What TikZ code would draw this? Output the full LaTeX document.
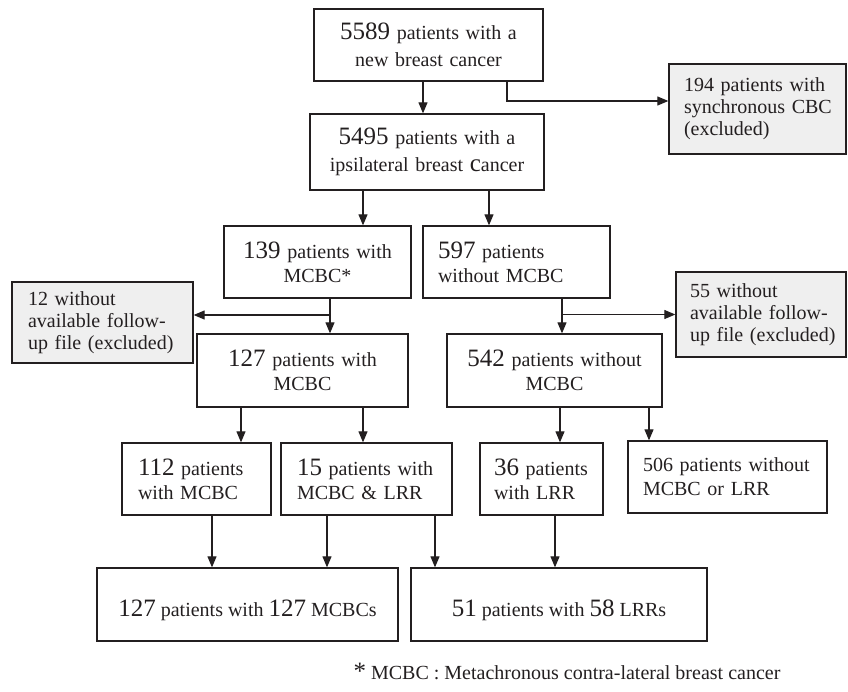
\documentclass[tikz,border=0pt]{standalone}
\usepackage{fontspec}
\setmainfont{Liberation Serif}
\usetikzlibrary{arrows.meta}
\definecolor{ink}{RGB}{35,31,32}
\definecolor{exfill}{RGB}{239,239,239}
\newcommand\bn[1]{{\fontsize{25}{25}\selectfont #1}}
\newcommand\nb[1]{\mbox{#1}}
\begin{document}
\begin{tikzpicture}[x=1pt,y=-1pt,
  box/.style={draw=ink,text=ink,line width=1.3pt,inner ysep=0pt,inner xsep=16pt},
  ctr/.style={box,align=center},
  lft/.style={box,align=left},
  ls27/.style={font=\fontsize{20}{27}\selectfont},
  ls24/.style={font=\fontsize{20}{24}\selectfont},
  ls22/.style={font=\fontsize{20}{22}\selectfont},
  excl/.style={lft,ls22,fill=exfill},
  arr/.style={draw=ink,line width=1.1pt,-{Triangle[length=11pt,width=9pt]}}]
\useasboundingbox (0,0) rectangle (848,691);

\node[ctr,ls27,minimum width=229pt,minimum height=72pt,text width=197pt] (A) at (428.5,45)
  {\nb{\bn{5589} patients with a}\\\nb{new breast cancer}};
\node[ctr,ls27,minimum width=234pt,minimum height=76pt,text width=202pt] (B) at (427,152)
  {\nb{\bn{5495} patients with a}\\\nb{ipsilateral breast \bn{c}ancer}};
\node[excl,inner xsep=15pt,minimum width=177pt,minimum height=90pt,text width=147pt] (ex1) at (757.5,109)
  {\nb{194 patients with}\\\nb{synchronous CBC}\\\nb{(excluded)}};

\node[ctr,ls24,minimum width=187pt,minimum height=72pt,text width=155pt] (C) at (317.5,262)
  {\nb{\bn{139} patients with}\\MCBC*};
\node[lft,inner xsep=15pt,ls24,minimum width=187pt,minimum height=72pt,text width=157pt] (D) at (516.5,262)
  {\nb{\bn{597} patients}\\\nb{without MCBC}};

\node[excl,minimum width=181pt,minimum height=81pt,text width=149pt] (ex2) at (102.5,322.5)
  {\nb{12 without}\\\nb{available follow-}\\\nb{up file (excluded)}};
\node[excl,inner xsep=14pt,minimum width=170pt,minimum height=85pt,text width=142pt] (ex3) at (761,314.5)
  {\nb{55 without}\\\nb{available follow-}\\\nb{up file (excluded)}};

\node[ctr,ls24,minimum width=211pt,minimum height=73pt,text width=179pt] (E) at (302.5,370.5)
  {\nb{\bn{127} patients with}\\MCBC};
\node[ctr,ls24,minimum width=215pt,minimum height=73pt,text width=183pt] (F) at (554.5,370.5)
  {\nb{\bn{542} patients without}\\MCBC};

\node[lft,ls24,minimum width=149pt,minimum height=72pt,text width=117pt] (G) at (196.5,479)
  {\nb{\bn{112} patients}\\\nb{with MCBC}};
\node[lft,ls24,minimum width=171pt,minimum height=72pt,text width=139pt] (H) at (366.5,479)
  {\nb{\bn{15} patients with}\\\nb{MCBC \& LRR}};
\node[lft,ls24,inner xsep=14pt,minimum width=123pt,minimum height=72pt,text width=95pt] (I) at (541.5,479)
  {\nb{\bn{36} patients}\\\nb{with LRR}};
\node[lft,ls24,inner xsep=15pt,minimum width=199pt,minimum height=72pt,text width=169pt] (J) at (727.5,477)
  {\nb{506 patients without}\\\nb{MCBC or LRR}};

\node[ctr,font=\fontsize{20}{24}\selectfont,minimum width=301pt,minimum height=73pt,text height=29pt,text depth=4.3pt] (K) at (247.5,604.5)
  {\bn{127} patients with \bn{127} MCBCs};
\node[ctr,font=\fontsize{20}{24}\selectfont,minimum width=296pt,minimum height=73pt,text height=29pt,text depth=4.3pt] (L) at (559,604.5)
  {\bn{51} patients with \bn{58} LRRs};

\node[anchor=base,text=ink,font=\fontsize{20}{24}\selectfont,inner sep=0pt] (fn) at (567,679)
  {\bn{*} MCBC : Metachronous contra-lateral breast cancer};

\draw[arr] ([xshift=-5.5pt]A.south) coordinate (p1) -- (p1 |- B.north);
\draw[arr] ([xshift=78.5pt]A.south) |- ([yshift=8pt]ex1.west);
\draw[arr] ([xshift=-64pt]B.south) coordinate (p2) -- (p2 |- C.north);
\draw[arr] ([xshift=62pt]B.south) coordinate (p3) -- (p3 |- D.north);
\draw[arr] ([xshift=12.5pt]C.south) coordinate (p4) -- (p4 |- E.north);
\draw[arr] (p4) |- ([yshift=7.5pt]ex2.east);
\draw[arr] ([xshift=45.5pt]D.south) coordinate (p5) -- (p5 |- F.north);
\draw[arr] (p5) |- (ex3.west);
\draw[arr] ([xshift=-61.5pt]E.south) coordinate (p6) -- (p6 |- G.north);
\draw[arr] ([xshift=60.5pt]E.south) coordinate (p7) -- (p7 |- H.north);
\draw[arr] ([xshift=5.5pt]F.south) coordinate (p8) -- (p8 |- I.north);
\draw[arr] ([xshift=94.5pt]F.south) coordinate (p9) -- (p9 |- J.north);
\draw[arr] ([xshift=15.5pt]G.south) coordinate (p10) -- (p10 |- K.north);
\draw[arr] ([xshift=-39.5pt]H.south) coordinate (p11) -- (p11 |- K.north);
\draw[arr] ([xshift=68.5pt]H.south) coordinate (p12) -- (p12 |- L.north);
\draw[arr] ([xshift=13.5pt]I.south) coordinate (p13) -- (p13 |- L.north);
\end{tikzpicture}
\end{document}
